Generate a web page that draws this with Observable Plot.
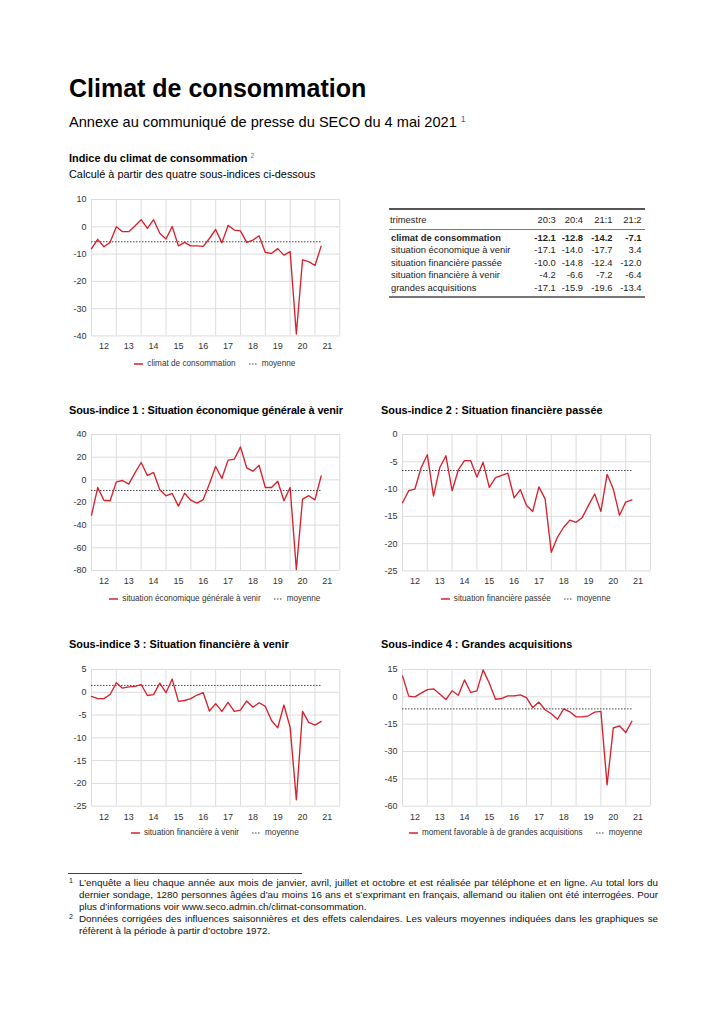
<!DOCTYPE html>
<html><head><meta charset="utf-8">
<script src="https://cdn.jsdelivr.net/npm/d3@7"></script>
<script src="https://cdn.jsdelivr.net/npm/@observablehq/plot@0.6"></script>
<style>
html,body{margin:0;padding:0;background:#fff;}
body{font-family:"Liberation Sans",Arial,Helvetica,sans-serif;color:#000;}
#page{position:relative;width:725px;height:1024px;overflow:hidden;background:#fff;}
.t{position:absolute;white-space:nowrap;line-height:1;}
.sup{font-size:0.6em;vertical-align:0.55em;font-weight:normal;}
.legend{position:absolute;display:flex;justify-content:center;align-items:center;font-size:8.2px;color:#333;line-height:1;}
.legend .item{display:flex;align-items:center;}
.legend svg{margin-right:4px;}
.rule{position:absolute;background:#666;}
.fn{position:absolute;left:79px;width:579px;font-size:9.8px;line-height:12.2px;text-align:justify;color:#111;}
.fn .mk{position:absolute;left:-10px;top:-2px;font-size:7px;}
</style></head><body><div id="page"></div>
<script>
// ---- data ----
const periods = ["12:1","12:2","12:3","12:4","13:1","13:2","13:3","13:4","14:1","14:2","14:3","14:4",
  "15:1","15:2","15:3","15:4","16:1","16:2","16:3","16:4","17:1","17:2","17:3","17:4",
  "18:1","18:2","18:3","18:4","19:1","19:2","19:3","19:4","20:1","20:2","20:3","20:4","21:1","21:2"];
const yearLabels = ["12","13","14","15","16","17","18","19","20","21"];
const climat = [-8.0,-4.6,-7.3,-5.7,0.0,-1.8,-1.8,0.3,2.6,-0.6,2.6,-2.4,-4.5,0.1,-7.0,-5.7,-7.0,-7.0,-7.2,-4.3,
  -1.0,-5.9,0.5,-1.2,-1.5,-5.7,-4.9,-3.3,-9.4,-9.8,-8.0,-10.4,-9.1,-39.3,-12.1,-12.8,-14.2,-7.1];
const situationEco = [-31.2,-6.8,-18.0,-18.5,-1.8,-0.6,-3.8,6.2,15.3,3.8,6.5,-8.8,-14.1,-12.0,-23.2,-11.8,-18.0,-20.6,-17.4,-3.5,
  11.8,1.2,17.4,18.2,29.1,10.6,7.6,12.9,-6.8,-6.8,-1.2,-18.5,-6.8,-79.1,-17.1,-14.0,-17.7,3.4];
const finPassee = [-12.5,-10.3,-10.0,-6.1,-3.7,-11.3,-6.1,-3.9,-10.3,-6.5,-4.8,-4.8,-7.8,-5.1,-9.7,-7.9,-7.5,-7.1,-11.6,-10.1,
  -13.0,-14.1,-9.6,-11.8,-21.6,-18.8,-17.0,-15.7,-16.1,-15.2,-13.0,-10.9,-14.1,-7.3,-10.0,-14.8,-12.4,-12.0];
const finVenir = [-0.9,-1.4,-1.4,-0.5,2.1,0.9,1.2,1.3,1.7,-0.7,-0.5,2.0,-0.1,2.9,-2.0,-1.8,-1.4,-0.6,-0.1,-4.1,
  -2.5,-4.2,-2.2,-4.2,-3.9,-1.9,-3.3,-2.3,-3.1,-6.2,-7.8,-2.8,-7.7,-23.6,-4.2,-6.6,-7.2,-6.4];
const acquisitions = [11.5,0.4,0.0,2.0,4.0,4.4,1.6,-1.5,3.3,0.9,9.3,2.4,3.3,14.8,7.5,-1.3,-0.9,0.5,0.5,1.1,
  -0.4,-5.9,-2.9,-7.1,-9.3,-12.3,-6.6,-8.2,-11.0,-11.0,-10.4,-8.4,-8.0,-48.3,-17.1,-15.9,-19.6,-13.4];
const means = {climat:-5.5, situationEco:-9.4, finPassee:-6.6, finVenir:1.5, acquisitions:-6.6};

const tableHeader = ["trimestre","20:3","20:4","21:1","21:2"];
const tableRows = [
  ["climat de consommation","-12.1","-12.8","-14.2","-7.1"],
  ["situation économique à venir","-17.1","-14.0","-17.7","3.4"],
  ["situation financière passée","-10.0","-14.8","-12.4","-12.0"],
  ["situation financière à venir","-4.2","-6.6","-7.2","-6.4"],
  ["grandes acquisitions","-17.1","-15.9","-19.6","-13.4"]
];

// ---- helpers ----
const RED = "#d7222d";
const FONT = '"Liberation Sans",Arial,Helvetica,sans-serif';
const page = document.getElementById("page");
function text(html, left, centerY, size, opts={}) {
  const d = document.createElement("div");
  d.className = "t";
  d.innerHTML = html;
  d.style.fontSize = size + "px";
  d.style.top = (centerY - size/2) + "px";
  if (opts.right != null) { d.style.right = (725 - opts.right) + "px"; }
  else d.style.left = left + "px";
  if (opts.bold) d.style.fontWeight = "bold";
  if (opts.color) d.style.color = opts.color;
  if (opts.ls != null) d.style.letterSpacing = opts.ls + "px";
  page.appendChild(d);
  return d;
}
function rule(x, y, w, h, color) {
  const d = document.createElement("div");
  d.className = "rule";
  Object.assign(d.style, {left:x+"px", top:y+"px", width:w+"px", height:h+"px"});
  if (color) d.style.background = color;
  page.appendChild(d);
}
const toX = p => 2000 + (+p.slice(0,2)) + ((+p.slice(3)) - 1) / 4;
const yearBreaks = d3.range(2012, 2023);
const mids = yearLabels.map(l => 2000 + (+l) + 0.5);

function chart(cfg) {
  const data = periods.map((p, i) => ({x: toX(p), y: cfg.values[i]}));
  const W = cfg.x1 - cfg.x0, H = cfg.y1 - cfg.y0;
  const mL = 50, mR = 12, mT = 10, mB = 22;
  const lastX = toX(periods[periods.length - 1]);
  const svg = Plot.plot({
    width: W + mL + mR, height: H + mT + mB,
    marginLeft: mL, marginRight: mR, marginTop: mT, marginBottom: mB,
    x: {domain: [2012, 2022], axis: null, label: null},
    y: {domain: cfg.domain, axis: null, label: null},
    style: {fontFamily: FONT, fontSize: "9px", color: "#333", background: "transparent", overflow: "visible"},
    marks: [
      Plot.gridX(yearBreaks, {stroke: "#dcdcdc", strokeOpacity: 1, strokeWidth: 1}),
      Plot.gridY(cfg.ticks, {stroke: "#dcdcdc", strokeOpacity: 1, strokeWidth: 1}),
      Plot.axisX(mids, {tickSize: 0, tickPadding: 7, label: null, tickFormat: d => yearLabels[Math.floor(d) - 2012]}),
      Plot.axisY(cfg.ticks, {tickSize: 0, tickPadding: 5, label: null, tickFormat: d => String(d)}),
      Plot.ruleY([{y: cfg.mean, a: 2012, b: lastX}], {y: "y", x1: "a", x2: "b", stroke: "#444", strokeWidth: 1, strokeDasharray: "1.5,1.5"}),
      Plot.line(data, {x: "x", y: "y", stroke: RED, strokeWidth: 1.35})
    ]
  });
  svg.style.position = "absolute";
  svg.style.left = (cfg.x0 - mL) + "px";
  svg.style.top = (cfg.y0 - mT) + "px";
  page.appendChild(svg);

  // legend
  const lg = document.createElement("div");
  lg.className = "legend";
  Object.assign(lg.style, {left: cfg.x0 + "px", width: W + "px", top: (cfg.legendY - 5) + "px", height: "10px"});
  lg.innerHTML =
    `<div class="item"><svg width="9" height="4"><line x1="0" x2="9" y1="2" y2="2" stroke="${RED}" stroke-width="1.5"/></svg><span>${cfg.legend}</span></div>` +
    `<div class="item" style="margin-left:13px"><svg width="9" height="4"><line x1="0" x2="9" y1="2" y2="2" stroke="#444" stroke-width="1" stroke-dasharray="1.5,1.5"/></svg><span>moyenne</span></div>`;
  page.appendChild(lg);
}

// ---- header ----
text('Climat de consommation', 69, 88, 25, {bold: true});
text('Annexe au communiqué de presse du SECO du 4 mai 2021 <span class="sup" style="color:#3d5fa8">1</span>', 69, 122, 14.6);
text('Indice du climat de consommation <span class="sup" style="color:#6b5fb0">2</span>', 69, 158, 10.9, {bold: true});
text('Calculé à partir des quatre sous-indices ci-dessous', 69, 174, 10.9);

// ---- charts ----
chart({x0: 90.7, x1: 339, y0: 199.3, y1: 335.7, domain: [-40, 10], ticks: [10, 0, -10, -20, -30, -40],
  values: climat, mean: means.climat, legend: "climat de consommation", legendY: 364});

text('Sous-indice 1 : Situation économique générale à venir', 69, 410, 10.9, {bold: true, ls: -0.12});
chart({x0: 90.7, x1: 339, y0: 434.3, y1: 570.3, domain: [-80, 40], ticks: [40, 20, 0, -20, -40, -60, -80],
  values: situationEco, mean: means.situationEco, legend: "situation économique générale à venir", legendY: 599});

text('Sous-indice 2 : Situation financière passée', 381, 410, 10.9, {bold: true});
chart({x0: 401.7, x1: 649.7, y0: 434.3, y1: 570.7, domain: [-25, 0], ticks: [0, -5, -10, -15, -20, -25],
  values: finPassee, mean: means.finPassee, legend: "situation financière passée", legendY: 599});

text('Sous-indice 3 : Situation financière à venir', 69, 644, 10.9, {bold: true});
chart({x0: 90.7, x1: 339, y0: 669, y1: 805.7, domain: [-25, 5], ticks: [5, 0, -5, -10, -15, -20, -25],
  values: finVenir, mean: means.finVenir, legend: "situation financière à venir", legendY: 833});

text('Sous-indice 4 : Grandes acquisitions', 381, 644, 10.9, {bold: true});
chart({x0: 401.7, x1: 649.7, y0: 669, y1: 805.7, domain: [-60, 15], ticks: [15, 0, -15, -30, -45, -60],
  values: acquisitions, mean: means.acquisitions, legend: "moment favorable à de grandes acquisitions", legendY: 833});

// ---- table ----
const TF = 9.4;
const colRight = [555.7, 583, 612.5, 641.5];
rule(389, 208, 256, 2, "#555");
text(tableHeader[0], 390, 219.3, TF, {color: "#222"});
tableHeader.slice(1).forEach((h, j) => text(h, 0, 219.3, TF, {right: colRight[j], color: "#222"}));
rule(389, 228.5, 256, 1.5, "#777");
const rowY = [238, 250, 262.4, 275, 287.2];
tableRows.forEach((r, i) => {
  const bold = i === 0;
  text(r[0], 391, rowY[i], TF, {bold, color: "#222"});
  r.slice(1).forEach((v, j) => text(v, 0, rowY[i], TF, {right: colRight[j], bold, color: "#222"}));
});
rule(389, 296, 256, 2, "#777");

// ---- footnotes ----
rule(68, 872.5, 234, 1, "#444");
const fn1 = document.createElement("div");
fn1.className = "fn";
fn1.style.top = "876.5px";
fn1.innerHTML = '<span class="mk">1</span>L’enquête a lieu chaque année aux mois de janvier, avril, juillet et octobre et est réalisée par téléphone et en ligne. Au total lors du dernier sondage, 1280 personnes âgées d’au moins 16 ans et s’exprimant en français, allemand ou italien ont été interrogées. Pour plus d’informations voir www.seco.admin.ch/climat-consommation.';
page.appendChild(fn1);
const fn2 = document.createElement("div");
fn2.className = "fn";
fn2.style.top = "913.1px";
fn2.innerHTML = '<span class="mk">2</span>Données corrigées des influences saisonnières et des effets calendaires. Les valeurs moyennes indiquées dans les graphiques se réfèrent à la période à partir d’octobre 1972.';
page.appendChild(fn2);
</script>
</body></html>
